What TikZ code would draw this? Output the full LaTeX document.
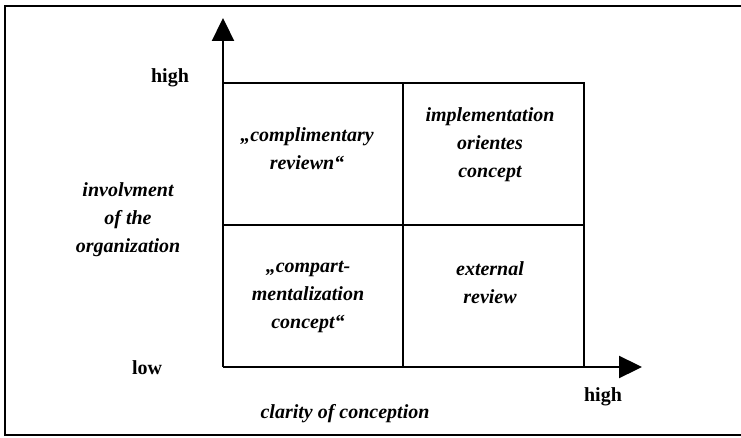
\documentclass[tikz,border=0pt]{standalone}
\usepackage{fontspec}
\setmainfont{Liberation Serif}
\usetikzlibrary{arrows.meta}
\begin{document}
\begin{tikzpicture}[x=1pt,y=-1pt,
  thick line/.style={line width=2.3pt, line cap=rect},
  axis/.style={line width=2.3pt, -{Triangle[length=23pt,width=22pt]}},
  lbl/.style={font=\fontsize{20}{28}\selectfont\bfseries\itshape, align=center, inner sep=0pt},
  plain/.style={font=\fontsize{20}{28}\selectfont\bfseries, inner sep=0pt}]
\useasboundingbox (0,0) rectangle (741,438);
% frame (right side not shown in reference)
\draw[line width=2.3pt] (741,6) -- (5,6) -- (5,435) -- (741,435);
% coordinates
\coordinate (O) at (223,367);
\coordinate (Ytip) at (223,18);
\coordinate (Xtip) at (642,367);
\coordinate (TL) at (223,83);
\coordinate (TR) at (584,83);
\coordinate (BR) at (584,367);
\coordinate (MT) at (403,83);
\coordinate (MB) at (403,367);
\coordinate (ML) at (223,225);
\coordinate (MR) at (584,225);
% grid
\draw[thick line] (TL) -- (TR) -- (BR);
\draw[thick line] (MT) -- (MB);
\draw[thick line] (ML) -- (MR);
% axes
\draw[axis] (O) -- (Ytip);
\draw[axis] (O) -- (Xtip);
% labels
\node[plain] (yhigh) at (170,78) {high};
\node[plain] (ylow) at (147,368) {low};
\node[plain] (xhigh) at (603,397) {high};
\node[lbl] (ylab) at (128,220) {involvment\\of the\\organization};
\node[lbl] (xlab) at (345,414) {clarity of conception};
\node[lbl] (c1) at (307,149) {„complimentary\\reviewn“};
\node[lbl] (c2) at (490,145) {implementation\\orientes\\concept};
\node[lbl] (c3) at (308,297) {„compart-\\mentalization\\concept“};
\node[lbl] (c4) at (490,283) {external\\review};
\end{tikzpicture}
\end{document}
